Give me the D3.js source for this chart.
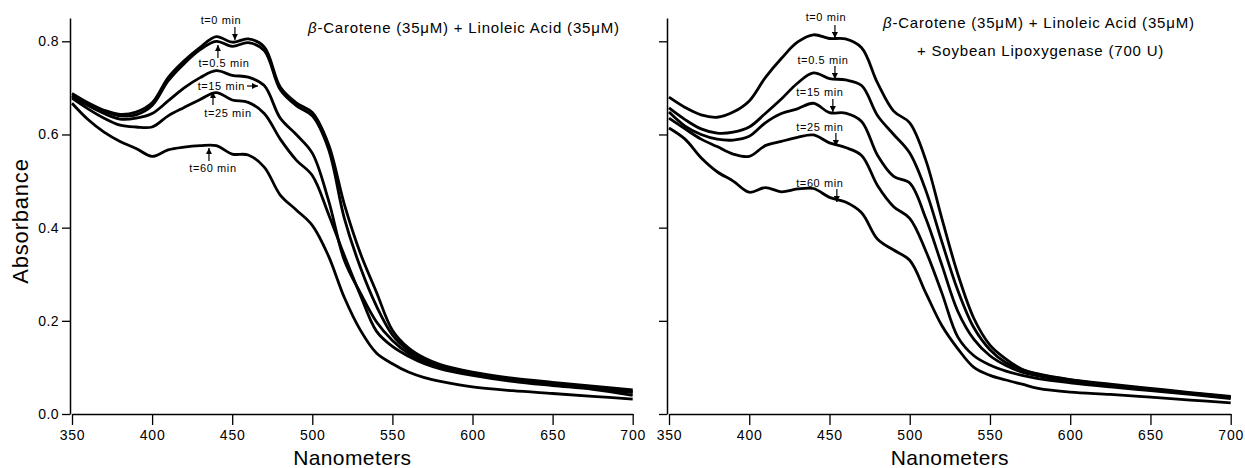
<!DOCTYPE html>
<html>
<head>
<meta charset="utf-8">
<script src="https://cdn.jsdelivr.net/npm/d3@7"></script>
<style>
  body { margin: 0; background: #fff; }
  svg { font-family: "Liberation Sans", Arial, sans-serif; }
</style>
</head>
<body>
<div id="chart"></div>
<script>
// wavelengths (nm) shared by every trace
var nm = [350,360,370,380,390,400,410,420,430,440,450,460,470,480,490,500,510,520,530,540,550,560,570,580,600,625,650,675,700];

// left panel: beta-carotene + linoleic acid
var leftT0   = [0.688,0.668,0.652,0.643,0.648,0.668,0.722,0.758,0.787,0.810,0.798,0.805,0.788,0.702,0.668,0.647,0.580,0.450,0.345,0.262,0.180,0.142,0.120,0.106,0.090,0.077,0.068,0.060,0.052];
var leftT05  = [0.684,0.665,0.650,0.640,0.642,0.662,0.715,0.752,0.782,0.800,0.789,0.797,0.780,0.696,0.662,0.640,0.570,0.420,0.315,0.232,0.170,0.136,0.115,0.102,0.087,0.073,0.064,0.055,0.046];
var leftT15  = [0.682,0.662,0.645,0.633,0.635,0.645,0.672,0.700,0.722,0.737,0.727,0.723,0.705,0.635,0.600,0.560,0.460,0.330,0.260,0.198,0.158,0.130,0.112,0.100,0.086,0.074,0.064,0.056,0.048];
var leftT25  = [0.678,0.655,0.635,0.620,0.616,0.616,0.640,0.658,0.675,0.690,0.674,0.669,0.645,0.590,0.545,0.512,0.430,0.340,0.255,0.178,0.145,0.124,0.108,0.097,0.083,0.070,0.061,0.053,0.040];
var leftT60  = [0.667,0.632,0.605,0.585,0.570,0.553,0.567,0.573,0.576,0.576,0.558,0.556,0.530,0.470,0.438,0.405,0.340,0.250,0.180,0.131,0.108,0.090,0.078,0.070,0.058,0.050,0.044,0.038,0.032];

// right panel: + soybean lipoxygenase
var rightT0  = [0.680,0.658,0.642,0.637,0.648,0.672,0.722,0.763,0.798,0.814,0.806,0.805,0.786,0.710,0.650,0.625,0.545,0.420,0.300,0.205,0.148,0.118,0.096,0.086,0.074,0.064,0.055,0.046,0.038];
var rightT05 = [0.657,0.632,0.612,0.603,0.605,0.616,0.645,0.676,0.710,0.732,0.720,0.717,0.705,0.640,0.600,0.560,0.480,0.370,0.265,0.185,0.138,0.110,0.095,0.085,0.073,0.062,0.053,0.045,0.036];
var rightT15 = [0.648,0.618,0.600,0.590,0.588,0.596,0.625,0.645,0.655,0.667,0.647,0.646,0.628,0.555,0.510,0.496,0.420,0.320,0.220,0.160,0.125,0.104,0.090,0.082,0.071,0.061,0.052,0.044,0.036];
var rightT25 = [0.635,0.612,0.590,0.574,0.558,0.553,0.576,0.585,0.594,0.599,0.582,0.572,0.555,0.490,0.445,0.420,0.350,0.260,0.165,0.125,0.105,0.092,0.083,0.076,0.067,0.058,0.050,0.042,0.033];
var rightT60 = [0.614,0.590,0.550,0.520,0.500,0.476,0.486,0.477,0.483,0.484,0.465,0.455,0.432,0.375,0.352,0.330,0.260,0.190,0.140,0.100,0.083,0.073,0.064,0.055,0.047,0.042,0.036,0.030,0.024];

var xTicks = [350,400,450,500,550,600,650,700];
var yTicks = [0.0,0.2,0.4,0.6,0.8];

// annotation arrows: tip sits on the curve, label offset in px
var leftNotes = [
  {text: "t=0 min",   nm: 451.7, v: 0.803, dir: "down", dx: -14, dy: -16},
  {text: "t=0.5 min", nm: 441.1, v: 0.792, dir: "up",   dx: 6,   dy: 22},
  {text: "t=15 min",  nm: 466.1, v: 0.704, dir: "right",dx: -13, dy: 4},
  {text: "t=25 min",  nm: 438.0, v: 0.691, dir: "up",   dx: 15,  dy: 25},
  {text: "t=60 min",  nm: 435.5, v: 0.571, dir: "up",   dx: 4,   dy: 24}
];
var rightNotes = [
  {text: "t=0 min",   nm: 453.4, v: 0.807, dir: "down", dx: -9,  dy: -17},
  {text: "t=0.5 min", nm: 453.4, v: 0.719, dir: "down", dx: -12, dy: -15},
  {text: "t=15 min",  nm: 452.1, v: 0.648, dir: "down", dx: -13, dy: -16},
  {text: "t=25 min",  nm: 454.0, v: 0.575, dir: "down", dx: -16, dy: -15},
  {text: "t=60 min",  nm: 454.6, v: 0.455, dir: "down", dx: -17, dy: -15}
];

var W = 1245, H = 468;
var svg = d3.select("#chart").append("svg")
  .attr("width", W).attr("height", H);

svg.append("defs").append("marker")
  .attr("id", "head")
  .attr("viewBox", "0 0 10 10")
  .attr("refX", 10).attr("refY", 5)
  .attr("markerWidth", 6).attr("markerHeight", 6)
  .attr("markerUnits", "userSpaceOnUse")
  .attr("orient", "auto")
  .append("path").attr("d", "M0,0 L10,5 L0,10 z").attr("fill", "#000");

var y = d3.scaleLinear().domain([0, 0.85]).range([414, 18]);

function panel(x0, x1, series, notes, showLabels, title) {
  var x = d3.scaleLinear().domain([350, 700]).range([x0, x1]);
  var g = svg.append("g");

  // x axis
  var xAxis = g.append("g")
    .attr("transform", "translate(0,414)")
    .call(d3.axisBottom(x).tickValues(xTicks).tickSize(11).tickPadding(5).tickSizeOuter(0));
  xAxis.select(".domain").attr("stroke-width", 1.5);
  xAxis.selectAll(".tick line").attr("stroke-width", 1.3);
  xAxis.selectAll("text").attr("font-size", 14).attr("fill", "#000")
    .attr("letter-spacing", 0.8)
    .attr("font-family", "Liberation Sans, Arial, sans-serif");

  // y axis
  var yAxis = g.append("g")
    .attr("transform", "translate(" + (x0 - 2) + ",0)")
    .call(d3.axisLeft(y).tickValues(yTicks).tickSize(8).tickPadding(3).tickSizeOuter(0)
      .tickFormat(showLabels ? d3.format(".1f") : ""));
  yAxis.select(".domain").attr("stroke-width", 1.5);
  yAxis.selectAll(".tick line").attr("stroke-width", 1.3);
  yAxis.selectAll("text").attr("font-size", 14).attr("fill", "#000")
    .attr("letter-spacing", 0.4)
    .attr("font-family", "Liberation Sans, Arial, sans-serif");

  g.append("text")
    .attr("x", (x0 + x1) / 2).attr("y", 465)
    .attr("text-anchor", "middle")
    .attr("font-size", 21)
    .attr("letter-spacing", 0.4)
    .text("Nanometers");

  // traces
  var line = d3.line()
    .x(function(d) { return x(d[0]); })
    .y(function(d) { return y(d[1]); })
    .curve(d3.curveCatmullRom.alpha(0.5));

  series.forEach(function(vals) {
    g.append("path")
      .datum(nm.map(function(n, i) { return [n, vals[i]]; }))
      .attr("fill", "none")
      .attr("stroke", "#000")
      .attr("stroke-width", 2.8)
      .attr("stroke-linejoin", "round")
      .attr("d", line);
  });

  // annotations
  notes.forEach(function(n) {
    var tx = x(n.nm), ty = y(n.v);
    var sx = tx, sy = ty;
    if (n.dir == "down") sy = ty - 13;
    else if (n.dir == "up") sy = ty + 13;
    else sx = tx - 11;
    g.append("line")
      .attr("x1", sx).attr("y1", sy).attr("x2", tx).attr("y2", ty)
      .attr("stroke", "#000").attr("stroke-width", 1.2)
      .attr("marker-end", "url(#head)");
    var t = g.append("text")
      .attr("font-size", 11)
      .attr("letter-spacing", 0.6)
      .text(n.text);
    if (n.dir == "right") {
      t.attr("x", sx - 2).attr("y", ty + n.dy).attr("text-anchor", "end");
    } else {
      t.attr("x", tx + n.dx).attr("y", ty + n.dy).attr("text-anchor", "middle");
    }
  });

  // title lines
  title.forEach(function(tl) {
    var t = g.append("text").attr("x", tl.x).attr("y", tl.y)
      .attr("font-size", 15).attr("letter-spacing", 0.8);
    tl.parts.forEach(function(p) {
      t.append("tspan").attr("font-style", p[1] ? "italic" : null).text(p[0]);
    });
  });
  return x;
}

panel(72, 632.7, [leftT0, leftT05, leftT15, leftT25, leftT60], leftNotes, true, [
  {x: 308, y: 33, parts: [["β", true], ["-Carotene (35μM) + Linoleic Acid (35μM)", false]]}
]);
panel(669, 1230.7, [rightT0, rightT05, rightT15, rightT25, rightT60], rightNotes, false, [
  {x: 883, y: 28, parts: [["β", true], ["-Carotene (35μM) + Linoleic Acid (35μM)", false]]},
  {x: 917, y: 56, parts: [["+ Soybean Lipoxygenase (700 U)", false]]}
]);

svg.append("text")
  .attr("transform", "translate(28,221) rotate(-90)")
  .attr("text-anchor", "middle")
  .attr("font-size", 22)
  .attr("letter-spacing", 0.8)
  .text("Absorbance");
</script>
</body>
</html>
